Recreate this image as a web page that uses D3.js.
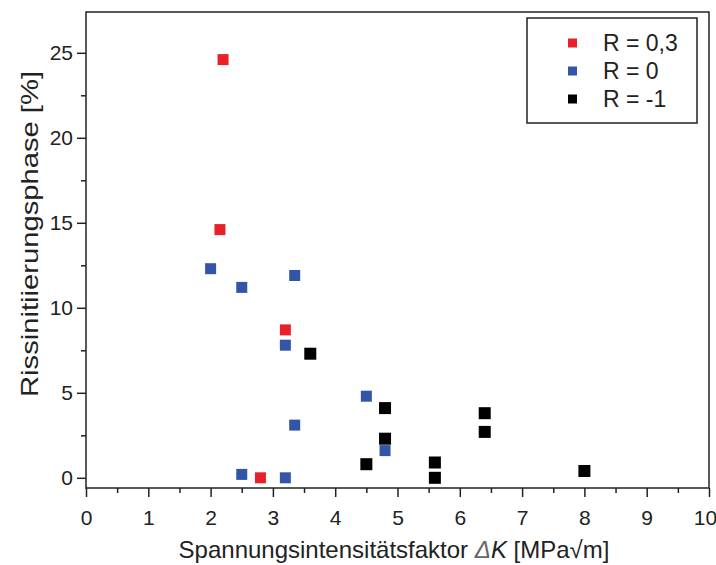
<!DOCTYPE html>
<html>
<head>
<meta charset="utf-8">
<script src="https://cdn.jsdelivr.net/npm/d3@7"></script>
<style>
  html, body { margin: 0; padding: 0; background: #fff; }
  svg { display: block; font-family: "Liberation Sans", Arial, sans-serif; }
</style>
</head>
<body>
<svg id="chart" width="716" height="565"></svg>
<script>
// Crack initiation phase versus stress intensity factor range, per load ratio R
const seriesNames = ["R = 0,3", "R = 0", "R = -1"];
const seriesColors = ["#e8202a", "#3355a8", "#000000"];

const dkR03 = [2.2, 2.15, 3.2, 2.8];
const phaseR03 = [24.6, 14.6, 8.7, 0.0];

const dkR0 = [2.0, 2.5, 3.35, 3.2, 4.5, 3.35, 4.8, 2.5, 3.2];
const phaseR0 = [12.3, 11.2, 11.9, 7.8, 4.8, 3.1, 1.6, 0.2, 0.0];

const dkRm1 = [3.6, 4.8, 4.8, 4.5, 6.4, 6.4, 5.6, 5.6, 8.0];
const phaseRm1 = [7.3, 4.1, 2.3, 0.8, 3.8, 2.7, 0.9, 0.0, 0.4];

const xTicks = [0, 1, 2, 3, 4, 5, 6, 7, 8, 9, 10];
const yTicks = [0, 5, 10, 15, 20, 25];

const series = [
  { name: seriesNames[0], color: seriesColors[0], x: dkR03, y: phaseR03, size: 11 },
  { name: seriesNames[1], color: seriesColors[1], x: dkR0, y: phaseR0, size: 11 },
  { name: seriesNames[2], color: seriesColors[2], x: dkRm1, y: phaseRm1, size: 12 }
];

const svg = d3.select("#chart");
const plotL = 86, plotR = 709, plotT = 12, plotB = 488;

const x = d3.scaleLinear().domain([0, 10]).range([plotL, plotR]);
const y = d3.scaleLinear().domain([-0.6, 27.4]).range([plotB, plotT]);

const axisColor = "#222";
const fontFam = "Liberation Sans, Arial, sans-serif";

// frame
svg.append("rect")
  .attr("x", plotL).attr("y", plotT)
  .attr("width", plotR - plotL).attr("height", plotB - plotT)
  .attr("fill", "none").attr("stroke", axisColor).attr("stroke-width", 1.5);

// minor ticks
const xMinor = d3.range(0.5, 10, 1);
const yMinor = d3.range(2.5, 27, 5);

const gx = svg.append("g").attr("transform", `translate(0,${plotB})`);
gx.call(d3.axisBottom(x).tickValues(xMinor).tickSize(5).tickFormat(""))
  .call(g => g.select(".domain").remove());
gx.append("g").call(d3.axisBottom(x).tickValues(xTicks).tickSize(9).tickPadding(13).tickFormat(d3.format("d")))
  .call(g => g.select(".domain").remove());
gx.selectAll("line").attr("stroke", axisColor).attr("stroke-width", 1.5);
gx.selectAll("text").attr("font-size", 21).attr("fill", "#222").attr("font-family", fontFam);
// keep the last label inside the page edge
gx.selectAll(".tick text").filter(d => d === 10).attr("dx", -4);

const gy = svg.append("g").attr("transform", `translate(${plotL},0)`);
gy.call(d3.axisLeft(y).tickValues(yMinor).tickSize(5).tickFormat(""))
  .call(g => g.select(".domain").remove());
gy.append("g").call(d3.axisLeft(y).tickValues(yTicks).tickSize(9).tickPadding(4).tickFormat(d3.format("d")))
  .call(g => g.select(".domain").remove());
gy.selectAll("line").attr("stroke", axisColor).attr("stroke-width", 1.5);
gy.selectAll("text").attr("font-size", 21).attr("fill", "#222").attr("font-family", fontFam);

// axis titles
const xTitle = svg.append("text")
  .attr("x", 394).attr("y", 558)
  .attr("text-anchor", "middle").attr("font-size", 24).attr("fill", "#222");
xTitle.append("tspan").text("Spannungsintensitätsfaktor ");
xTitle.append("tspan").attr("font-style", "italic").attr("fill", "#666").text("Δ");
xTitle.append("tspan").attr("font-style", "italic").text("K");
xTitle.append("tspan").text(" [MPa√m]");

svg.append("text")
  .attr("transform", "translate(38,234) rotate(-90)")
  .attr("text-anchor", "middle").attr("font-size", 24).attr("fill", "#222")
  .attr("textLength", 326).attr("lengthAdjust", "spacingAndGlyphs")
  .text("Rissinitiierungsphase [%]");

// markers
series.forEach(s => {
  const pts = s.x.map((v, i) => [v, s.y[i]]);
  svg.append("g").selectAll("rect").data(pts).join("rect")
    .attr("x", d => x(d[0]) - s.size / 2)
    .attr("y", d => y(d[1]) - s.size / 2)
    .attr("width", s.size).attr("height", s.size)
    .attr("fill", s.color);
});

// legend
const lg = svg.append("g");
lg.append("rect")
  .attr("x", 527).attr("y", 18).attr("width", 170).attr("height", 105)
  .attr("fill", "#fff").attr("stroke", axisColor).attr("stroke-width", 1.5);
series.forEach((s, i) => {
  const cy = 43 + i * 28;
  lg.append("rect").attr("x", 568).attr("y", cy - 4.5).attr("width", 9).attr("height", 9).attr("fill", s.color);
  lg.append("text").attr("x", 603).attr("y", cy + 8).attr("font-size", 23).attr("fill", "#222").text(s.name);
});
</script>
</body>
</html>
